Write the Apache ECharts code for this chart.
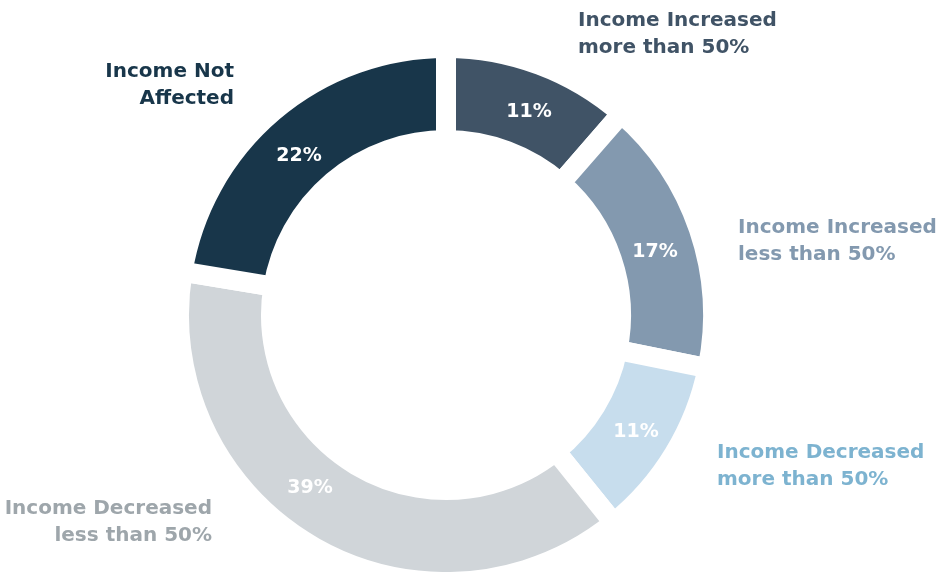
<!DOCTYPE html>
<html>
<head>
<meta charset="utf-8">
<script src="https://cdn.jsdelivr.net/npm/echarts@6/dist/echarts.min.js"></script>
<style>
  html, body { margin: 0; padding: 0; background: #fff; }
  #main { width: 946px; height: 572px; }
</style>
</head>
<body>
<div id="main"></div>
<script>
// 数据
var categories = [
    'Income Increased\nmore than 50%',
    'Income Increased\nless than 50%',
    'Income Decreased\nmore than 50%',
    'Income Decreased\nless than 50%',
    'Income Not\nAffected'
];
// 扇区大小按图中角度估计，标签显示取整后的百分比
var values = [11.4, 16.8, 11.0, 38.4, 22.4];
var pctLabels = ['11%', '17%', '11%', '39%', '22%'];
var sliceColors = ['#405366', '#8399af', '#c7dded', '#d0d5d9', '#18364a'];
var labelColors = ['#405366', '#8399af', '#7db3d0', '#9ea6ab', '#18364a'];

// 外侧标签位置
var labelPos = [
    { x: 578, y: 7, align: 'left' },
    { x: 738, y: 214, align: 'left' },
    { x: 717, y: 439, align: 'left' },
    { x: 212, y: 495, align: 'right' },
    { x: 234, y: 58, align: 'right' }
];
// 扇区内百分比标签位置
var pctPos = [[529, 112], [655, 252], [636, 432], [310, 488], [299, 156]];

var myChart = echarts.init(document.getElementById('main'));

var pieData = [];
for (var i = 0; i < values.length; i++) {
    pieData.push({
        name: categories[i],
        value: values[i],
        itemStyle: { color: sliceColors[i] }
    });
}

var graphics = [];
for (var j = 0; j < categories.length; j++) {
    graphics.push({
        type: 'text',
        x: labelPos[j].x,
        y: labelPos[j].y,
        style: {
            text: categories[j],
            fill: labelColors[j],
            font: 'bold 20px "DejaVu Sans"',
            lineHeight: 27,
            align: labelPos[j].align,
            verticalAlign: 'top'
        }
    });
}

var option = {
    backgroundColor: '#fff',
    animation: false,
    graphic: graphics,
    series: [{
        type: 'pie',
        center: [446, 315],
        radius: [175, 267],
        startAngle: 90,
        clockwise: true,
        data: pieData,
        itemStyle: {
            borderColor: '#fff',
            borderWidth: 20
        },
        label: {
            show: true,
            position: 'inside',
            formatter: function (p) {
                return pctLabels[p.dataIndex];
            },
            color: '#fff',
            fontFamily: 'DejaVu Sans',
            fontWeight: 'bold',
            fontSize: 19
        },
        labelLayout: function (p) {
            return {
                x: pctPos[p.dataIndex][0],
                y: pctPos[p.dataIndex][1],
                align: 'center',
                verticalAlign: 'middle'
            };
        },
        labelLine: { show: false },
        emphasis: { disabled: true }
    }]
};
myChart.setOption(option);
</script>
</body>
</html>
